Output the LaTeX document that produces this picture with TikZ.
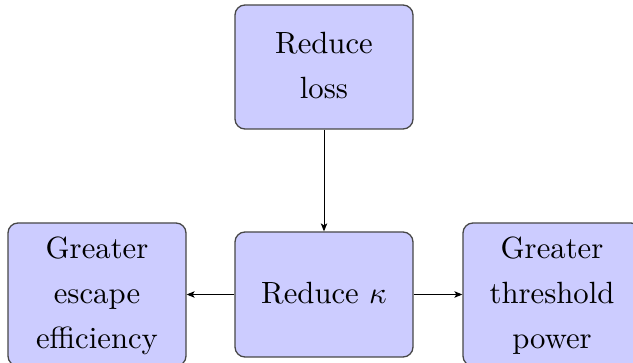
\documentclass[tikz,border=0pt]{standalone}
\usetikzlibrary{arrows.meta}
\usepackage{graphicx}
% text set at 10pt and enlarged, so the strokes keep the 10pt design weight
\newcommand{\blocktext}[1]{%
  \scalebox{3.07}{\renewcommand{\arraystretch}{1.22}%
    \begin{tabular}{@{}c@{}}#1\end{tabular}}}
\tikzset{
  block/.style={draw=black!72, line width=1.3pt, fill=blue!20, rounded corners=10pt,
    minimum width=178pt, align=center, inner sep=0pt, font=\normalsize},
  flow/.style={line width=1pt, -{Stealth[length=8pt,width=6.5pt,inset=2pt]}}
}
\begin{document}
\begin{tikzpicture}[x=1pt,y=-1pt]
  \useasboundingbox (0,0) rectangle (633,363);
  % cause at the top, effect in the middle, consequences on both sides
  \node[block, minimum height=124pt] (loss) at (324,67) {\blocktext{Reduce\\loss}};
  \node[block, minimum height=125pt] (kappa) at (324,294.5) {\blocktext{Reduce $\kappa$}};
  \node[block, minimum height=143pt] (escape) at (97,294.5) {\blocktext{Greater\\escape\\efficiency}};
  \node[block, minimum height=143pt] (power) at (552,294.5) {\blocktext{Greater\\threshold\\power}};
  \draw[flow] (loss) -- (kappa);
  \draw[flow] (kappa) -- (escape);
  \draw[flow] (kappa) -- (power);
\end{tikzpicture}
\end{document}
